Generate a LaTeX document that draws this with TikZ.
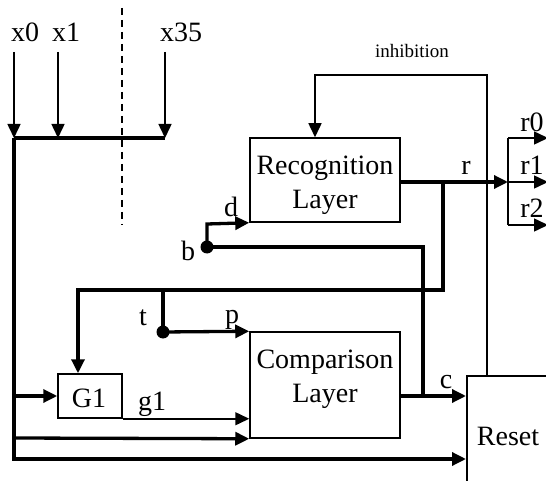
\documentclass[tikz,border=0pt]{standalone}
\usepackage{fontspec}
\setmainfont{Liberation Serif}
\usetikzlibrary{arrows.meta}
\tikzset{
  thickw/.style={line width=3.3pt},
  thinw/.style={line width=1.5pt},
  arr/.style={-{Triangle[length=14pt,width=13pt]}},
  box/.style={draw,line width=1.5pt,inner sep=0pt},
  lbl/.style={anchor=base,inner sep=0pt,font=\fontsize{28}{32}\selectfont},
  dot/.style={circle,fill=black,inner sep=0pt,minimum size=13pt},
}
\begin{document}
\begin{tikzpicture}[x=1pt,y=-1pt]
\useasboundingbox (0,0) rectangle (546,481);
\clip (0,0) rectangle (546,481);
% boxes
\node[box,minimum width=150pt,minimum height=84pt] (rec) at (325,180) {};
\node[box,minimum width=150pt,minimum height=106pt] (cmp) at (325,385) {};
\node[box,minimum width=64pt,minimum height=44pt] (g1box) at (90,396) {};
\node[box,minimum width=120pt,minimum height=140pt,anchor=north west] (reset) at (466,375) {};
\node[lbl] (rect1) at (325,175) {Recognition};
\node[lbl] (rect2) at (325,208) {Layer};
\node[lbl] (cmpt1) at (325,368) {Comparison};
\node[lbl] (cmpt2) at (325,402) {Layer};
\node[lbl] (resett) at (508,445) {Reset};
\node[lbl] (g1t) at (89,407) {G1};
% input labels
\node[lbl] (lx0) at (25,42) {x0};
\node[lbl] (lx1) at (66,42) {x1};
\node[lbl] (lx35) at (181,42) {x35};
\node[lbl,font=\fontsize{19}{22}\selectfont] (linh) at (412,58) {inhibition};
\node[lbl] (lr) at (466,175) {r};
\node[lbl] (lr0) at (532,132) {r0};
\node[lbl] (lr1) at (532,175) {r1};
\node[lbl] (lr2) at (532,218) {r2};
\node[lbl] (ld) at (231,217) {d};
\node[lbl] (lb) at (188,260) {b};
\node[lbl] (lt) at (143,325) {t};
\node[lbl] (lp) at (232,323) {p};
\node[lbl] (lc) at (446,388) {c};
\node[lbl] (lg1) at (152,410) {g1};
% coordinates
\coordinate (x0s) at (14,52);
\coordinate (x1s) at (58,52);
\coordinate (x35s) at (165,52);
\coordinate (x0e) at (14,138);
\coordinate (x1e) at (58,138);
\coordinate (x35e) at (165,138);
\coordinate (busb) at (14,459);
\coordinate (dash1) at (122,8);
\coordinate (dash2) at (122,225);
% dashed separator
\draw[thinw,dash pattern=on 7pt off 5pt] (dash1) -- (dash2);
% inputs
\draw[thinw,arr] (x0s) -- (x0e);
\draw[thinw,arr] (x1s) -- (x1e);
\draw[thinw,arr] (x35s) -- (x35e);
\draw[thickw] (x0e) -- (x35e);
% main left bus
\draw[thickw,arr] (x0e) -- (busb) -- (busb -| reset.west);
\draw[thickw,arr] (14,396) -- (g1box.west);
\draw[thickw,arr] (14,438) -- (cmp.south west);
\draw[thinw,arr] (g1box.south east) -- (g1box.south east -| cmp.west);
% inhibition
\draw[thinw,arr] (reset.north west) ++(21,0) |- (315,75) -- (rec.north west -| 315,0);
% r output
\coordinate (rjunc) at (443,182);
\coordinate (rbus) at (508,182);
\draw[thickw,arr] (rec.east |- rjunc) -- (rbus);
\draw[thinw] (508,138) -- (508,225);
\draw[thinw,arr] (508,138) -- (548,138);
\draw[thinw,arr] (508,182) -- (548,182);
\draw[thinw,arr] (508,225) -- (548,225);
% feedback to G1
\draw[thickw,arr] (rjunc) -- (443,290) -- (78,290) -- (g1box.north -| 78,0);
% t -> p
\node[dot] (tdot) at (163,332) {};
\draw[thickw] (163,290) -- (tdot.center);
\draw[thickw,arr] (tdot.center) -- (cmp.north west);
% b -> d
\node[dot] (bdot) at (207,247) {};
\coordinate (cjunc) at (423,396);
\draw[thickw] (cjunc) -- (423,247) -- (bdot.center);
\draw[thickw,arr] (bdot.center) -- (207,224) -- (rec.south west);
% c
\draw[thickw,arr] (cmp.east |- cjunc) -- (cjunc -| reset.west);
\end{tikzpicture}
\end{document}
